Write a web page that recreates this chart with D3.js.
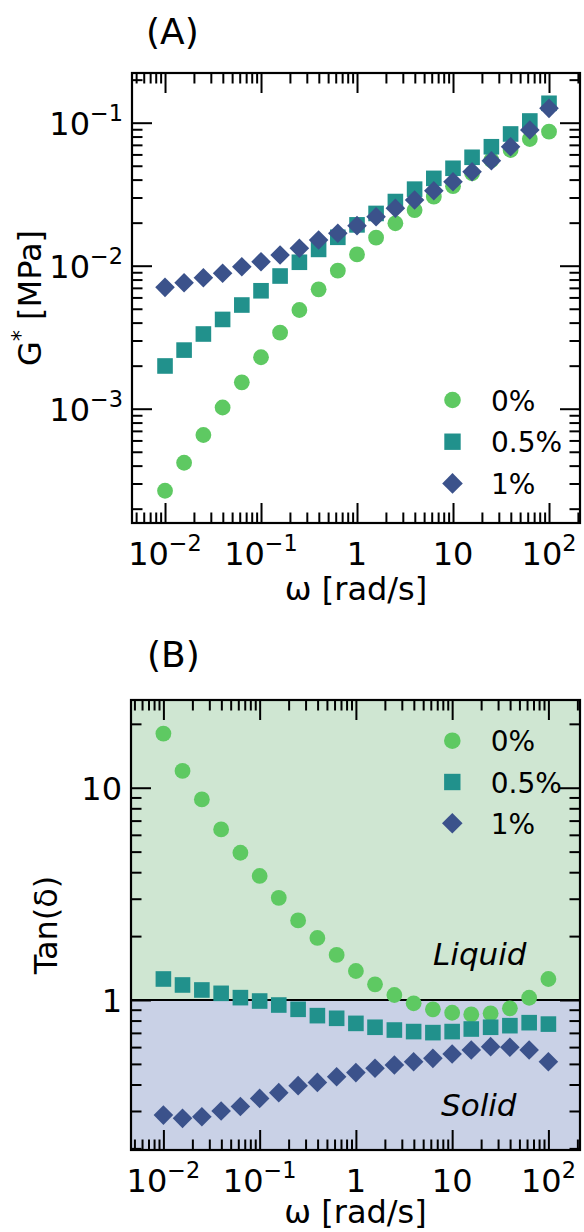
<!DOCTYPE html>
<html><head><meta charset="utf-8">
<script src="https://cdn.jsdelivr.net/npm/d3@7"></script>
<style>
body{margin:0;background:#fff}
svg{display:block}
text{font-family:"DejaVu Sans",sans-serif;fill:#000}
</style>
</head><body>
<svg id="c" width="584" height="1232"></svg>
<script>
// ---------- data ----------
const omega = [0.01, 0.0158, 0.0251, 0.0398, 0.0631, 0.1, 0.158, 0.251, 0.398, 0.631, 1,
               1.58, 2.51, 3.98, 6.31, 10, 15.8, 25.1, 39.8, 63.1, 100];
const seriesNames = ["0%", "0.5%", "1%"];
const seriesColors = ["#5ec962", "#21918c", "#3b528b"];
const seriesShapes = ["circle", "square", "diamond"];

// (A) G* [MPa]
const gStar0  = [0.000267, 0.000419, 0.000655, 0.00102, 0.00153, 0.00229, 0.00340, 0.00490, 0.00684, 0.00923, 0.0120,
                 0.0157, 0.0198, 0.0245, 0.0304, 0.0360, 0.0443, 0.0548, 0.0644, 0.0769, 0.0865];
const gStar05 = [0.00199, 0.00257, 0.00333, 0.00421, 0.00531, 0.00668, 0.00847, 0.01057, 0.0130, 0.0158, 0.0193,
                 0.0232, 0.0281, 0.0343, 0.0408, 0.0480, 0.0573, 0.0679, 0.0834, 0.1028, 0.1367];
const gStar1  = [0.00706, 0.00760, 0.00824, 0.00885, 0.00984, 0.01067, 0.01188, 0.01324, 0.01514, 0.01686, 0.01906,
                 0.0220, 0.0252, 0.0288, 0.0334, 0.0386, 0.0454, 0.0542, 0.0679, 0.0889, 0.126];

// (B) Tan(delta)
const tan0  = [18.0, 12.0, 8.81, 6.36, 4.94, 3.84, 3.03, 2.37, 1.96, 1.63, 1.37,
               1.185, 1.056, 0.965, 0.904, 0.871, 0.856, 0.865, 0.914, 1.025, 1.256];
const tan05 = [1.256, 1.177, 1.115, 1.075, 1.026, 0.989, 0.947, 0.904, 0.844, 0.820, 0.776,
               0.744, 0.722, 0.710, 0.702, 0.710, 0.730, 0.744, 0.757, 0.782, 0.770];
const tan1  = [0.287, 0.277, 0.282, 0.300, 0.315, 0.344, 0.366, 0.395, 0.409, 0.435, 0.455,
               0.477, 0.494, 0.512, 0.531, 0.557, 0.581, 0.603, 0.599, 0.581, 0.512];

// ticks
const xTickValues = [0.01, 0.1, 1, 10, 100];
const xTickLabels = ["10^−2", "10^−1", "1", "10", "10^2"];
const yTickValuesA = [0.001, 0.01, 0.1];
const yTickLabelsA = ["10^−3", "10^−2", "10^−1"];
const yTickValuesB = [1, 10];
const yTickLabelsB = ["1", "10"];

// ---------- drawing ----------
const svg = d3.select("#c");
const FS = 32, SUP = 22.4;

function minorTicks(domain) {
  const out = [];
  for (let d = -5; d <= 3; d++) for (let m = 2; m <= 9; m++) {
    const v = m * Math.pow(10, d);
    if (v >= domain[0] && v <= domain[1]) out.push(v);
  }
  return out;
}

function addLabel(sel, str) {
  const parts = str.split("^");
  sel.append("tspan").text(parts[0]);
  if (parts[1]) sel.append("tspan").attr("font-size", SUP).attr("dy", -13.5).text(parts[1]);
}

function marker(g, shape, color, cx, cy, s) {
  if (shape === "circle") {
    g.append("circle").attr("cx", cx).attr("cy", cy).attr("r", 7.9 * s).attr("fill", color);
  } else if (shape === "square") {
    const h = 7.8 * s;
    g.append("rect").attr("x", cx - h).attr("y", cy - h).attr("width", 2 * h).attr("height", 2 * h).attr("fill", color);
  } else {
    const h = 9.8 * s;
    g.append("path").attr("d", `M${cx},${cy - h}L${cx + h},${cy}L${cx},${cy + h}L${cx - h},${cy}Z`).attr("fill", color);
  }
}

function frameAndTicks(g, x, y, L, R, T, B, xLabels, yVals, yLabels) {
  const xMaj = xTickValues, xMin = minorTicks(x.domain());
  const yMaj = yVals, yMin = minorTicks(y.domain());
  const style = a => a.call(s => s.select(".domain").remove())
                      .call(s => s.selectAll("line").attr("stroke", "#000").attr("stroke-width", 2));
  const add = (axis, vals, size, tr) => g.append("g").attr("transform", tr)
      .call(axis.tickValues(vals).tickSize(-size).tickFormat("")).call(style);
  add(d3.axisBottom(x), xMaj, 20, `translate(0,${B})`);
  add(d3.axisBottom(x), xMin, 10.5, `translate(0,${B})`);
  add(d3.axisTop(x), xMaj, 20, `translate(0,${T})`);
  add(d3.axisTop(x), xMin, 10.5, `translate(0,${T})`);
  add(d3.axisLeft(y), yMaj, 20, `translate(${L},0)`);
  add(d3.axisLeft(y), yMin, 10.5, `translate(${L},0)`);
  add(d3.axisRight(y), yMaj, 20, `translate(${R},0)`);
  add(d3.axisRight(y), yMin, 10.5, `translate(${R},0)`);
  g.append("rect").attr("x", L).attr("y", T).attr("width", R - L).attr("height", B - T)
    .attr("fill", "none").attr("stroke", "#000").attr("stroke-width", 2.2);
  // tick labels
  xTickValues.forEach((v, i) => {
    const t = g.append("text").attr("x", x(v)).attr("y", B + 41.5).attr("text-anchor", "middle").attr("font-size", FS);
    addLabel(t, xLabels[i]);
  });
  yVals.forEach((v, i) => {
    const t = g.append("text").attr("x", L - 9).attr("y", y(v) + 12).attr("text-anchor", "end").attr("font-size", FS);
    addLabel(t, yLabels[i]);
  });
}

function legend(g, x0, y0, dy) {
  seriesNames.forEach((n, i) => {
    marker(g, seriesShapes[i], seriesColors[i], x0, y0 + i * dy, 1.05);
    g.append("text").attr("x", x0 + 38.5).attr("y", y0 + i * dy + 10.5).attr("font-size", 28).text(n);
  });
}

function drawSeries(g, x, y, data) {
  data.forEach((arr, si) => {
    arr.forEach((v, k) => marker(g, seriesShapes[si], seriesColors[si], x(omega[k]), y(v), 1));
  });
}

// ---------- Panel A ----------
{
  const L = 132, R = 580, T = 73, B = 523;
  const x = d3.scaleLog().domain([0.004529, 210.3]).range([L, R]);
  const y = d3.scaleLog().domain([1.588e-4, 0.2226]).range([B, T]);
  const g = svg.append("g");
  g.append("text").attr("x", 146).attr("y", 43.5).attr("font-size", 36).text("(A)");
  drawSeries(g, x, y, [gStar0, gStar05, gStar1]);
  legend(g, 452.5, 400, 41.7);
  frameAndTicks(g, x, y, L, R, T, B, xTickLabels, yTickValuesA, yTickLabelsA);
  g.append("text").attr("x", (L + R) / 2).attr("y", 600).attr("text-anchor", "middle").attr("font-size", FS).text("ω [rad/s]");
  const yl = g.append("text").attr("transform", `translate(40.5,${(T + B) / 2}) rotate(-90)`)
    .attr("text-anchor", "middle").attr("font-size", FS);
  yl.append("tspan").text("G");
  yl.append("tspan").attr("font-size", SUP).attr("dy", -13).text("*");
  yl.append("tspan").attr("dy", 13).text(" [MPa]");
}

// ---------- Panel B ----------
{
  const L = 131, R = 580, T = 700, B = 1150;
  const x = d3.scaleLog().domain([Math.pow(10, -2.3366), Math.pow(10, 2.3283)]).range([L, R]);
  const y = d3.scaleLog().domain([0.1965, 25.9]).range([B, T]);
  const g = svg.append("g");
  g.append("text").attr("x", 147).attr("y", 667).attr("font-size", 36).text("(B)");
  g.append("rect").attr("x", L).attr("y", T).attr("width", R - L).attr("height", y(1) - T).attr("fill", "#cfe6d2");
  g.append("rect").attr("x", L).attr("y", y(1)).attr("width", R - L).attr("height", B - y(1)).attr("fill", "#c9d1e6");
  g.append("line").attr("x1", L).attr("x2", R).attr("y1", y(1)).attr("y2", y(1)).attr("stroke", "#000").attr("stroke-width", 2);
  drawSeries(g, x, y, [tan0, tan05, tan1]);
  g.append("text").attr("x", 433).attr("y", 965).attr("font-family", "Lato").attr("font-style", "italic")
    .attr("font-size", 31).text("Liquid");
  g.append("text").attr("x", 441).attr("y", 1116).attr("font-family", "Lato").attr("font-style", "italic")
    .attr("font-size", 31).text("Solid");
  legend(g, 452.3, 740.7, 41.3);
  frameAndTicks(g, x, y, L, R, T, B, xTickLabels, yTickValuesB, yTickLabelsB);
  g.append("text").attr("x", (L + R) / 2).attr("y", 1223).attr("text-anchor", "middle").attr("font-size", FS).text("ω [rad/s]");
  g.append("text").attr("transform", `translate(57,${(T + B) / 2}) rotate(-90)`)
    .attr("text-anchor", "middle").attr("font-size", FS).text("Tan(δ)");
}
</script>
</body></html>
